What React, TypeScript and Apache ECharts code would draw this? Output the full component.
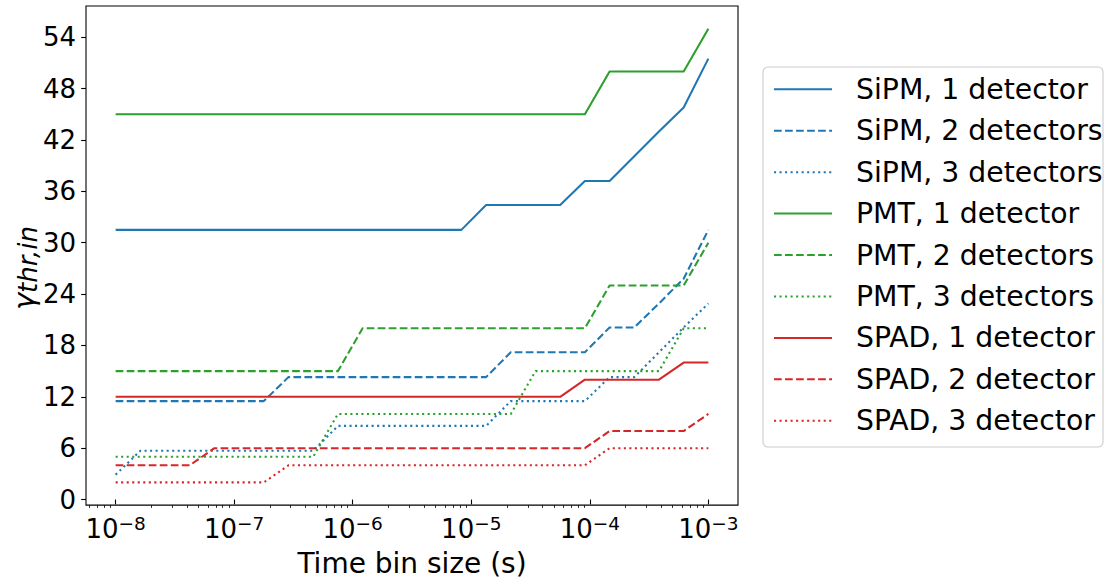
import React, { useEffect, useRef } from 'react';
import * as echarts from 'echarts';

// Time bin sizes (s), sampled log-uniformly from 1e-8 to 1e-3
const timeBins = [
  1e-8, 1.6156e-8, 2.6102e-8, 4.217e-8, 6.8129e-8,
  1.1007e-7, 1.7783e-7, 2.873e-7, 4.6416e-7, 7.4989e-7,
  1.2115e-6, 1.9573e-6, 3.1623e-6, 5.109e-6, 8.254e-6,
  1.3335e-5, 2.1544e-5, 3.4807e-5, 5.6234e-5, 9.0852e-5,
  1.4678e-4, 2.3714e-4, 3.8312e-4, 6.1897e-4, 1e-3,
];

const sipm1 = [31.5, 31.5, 31.5, 31.5, 31.5, 31.5, 31.5, 31.5, 31.5, 31.5, 31.5, 31.5, 31.5, 31.5, 31.5, 34.4, 34.4, 34.4, 34.4, 37.2, 37.2, 40.1, 43.0, 45.8, 51.5];
const sipm2 = [11.5, 11.5, 11.5, 11.5, 11.5, 11.5, 11.5, 14.3, 14.3, 14.3, 14.3, 14.3, 14.3, 14.3, 14.3, 14.3, 17.2, 17.2, 17.2, 17.2, 20.1, 20.1, 22.9, 25.8, 31.5];
const sipm3 = [2.9, 5.7, 5.7, 5.7, 5.7, 5.7, 5.7, 5.7, 5.7, 8.6, 8.6, 8.6, 8.6, 8.6, 8.6, 8.6, 11.5, 11.5, 11.5, 11.5, 14.3, 14.3, 17.2, 20.1, 22.9];
const pmt1 = [45, 45, 45, 45, 45, 45, 45, 45, 45, 45, 45, 45, 45, 45, 45, 45, 45, 45, 45, 45, 50, 50, 50, 50, 55];
const pmt2 = [15, 15, 15, 15, 15, 15, 15, 15, 15, 15, 20, 20, 20, 20, 20, 20, 20, 20, 20, 20, 25, 25, 25, 25, 30];
const pmt3 = [5, 5, 5, 5, 5, 5, 5, 5, 5, 10, 10, 10, 10, 10, 10, 10, 10, 15, 15, 15, 15, 15, 15, 20, 20];
const spad1 = [12, 12, 12, 12, 12, 12, 12, 12, 12, 12, 12, 12, 12, 12, 12, 12, 12, 12, 12, 14, 14, 14, 14, 16, 16];
const spad2 = [4, 4, 4, 4, 6, 6, 6, 6, 6, 6, 6, 6, 6, 6, 6, 6, 6, 6, 6, 6, 8, 8, 8, 8, 10];
const spad3 = [2, 2, 2, 2, 2, 2, 2, 4, 4, 4, 4, 4, 4, 4, 4, 4, 4, 4, 4, 4, 6, 6, 6, 6, 6];

const seriesNames = [
  'SiPM, 1 detector', 'SiPM, 2 detectors', 'SiPM, 3 detectors',
  'PMT, 1 detector', 'PMT, 2 detectors', 'PMT, 3 detectors',
  'SPAD, 1 detector', 'SPAD, 2 detector', 'SPAD, 3 detector',
];
const seriesValues = [sipm1, sipm2, sipm3, pmt1, pmt2, pmt3, spad1, spad2, spad3];

const xMajorTicks = [1e-8, 1e-7, 1e-6, 1e-5, 1e-4, 1e-3];
const xMinorTicks = [
  6e-9, 7e-9, 8e-9, 9e-9,
  2e-8, 3e-8, 4e-8, 5e-8, 6e-8, 7e-8, 8e-8, 9e-8,
  2e-7, 3e-7, 4e-7, 5e-7, 6e-7, 7e-7, 8e-7, 9e-7,
  2e-6, 3e-6, 4e-6, 5e-6, 6e-6, 7e-6, 8e-6, 9e-6,
  2e-5, 3e-5, 4e-5, 5e-5, 6e-5, 7e-5, 8e-5, 9e-5,
  2e-4, 3e-4, 4e-4, 5e-4, 6e-4, 7e-4, 8e-4, 9e-4,
];
const yTicks = [0, 6, 12, 18, 24, 30, 36, 42, 48, 54];

const BLUE = '#1f77b4';
const GREEN = '#2ca02c';
const RED = '#d62728';
const colors = [BLUE, BLUE, BLUE, GREEN, GREEN, GREEN, RED, RED, RED];
const SOLID: any = 'solid';
const DASH = [7.7, 3.33];
const DOT = [2.08, 3.44];
const styles = [SOLID, DASH, DOT, SOLID, DASH, DOT, SOLID, DASH, DOT];

const FONT = 'DejaVu Sans';
const LOG_MIN = -8.25;
const LOG_MAX = -2.75;

export default function App() {
  const ref = useRef<HTMLDivElement>(null);

  useEffect(() => {
    if (!ref.current) return;
    const chart = echarts.init(ref.current, null, { renderer: 'svg' });

    const series = seriesNames.map((name, i) => ({
      name,
      type: 'line',
      xAxisIndex: 0,
      yAxisIndex: 0,
      symbol: 'none',
      showSymbol: false,
      data: timeBins.map((t, j) => [Math.log10(t), seriesValues[i][j]]),
      lineStyle: {
        color: colors[i],
        width: 2.08,
        type: styles[i],
        cap: 'butt',
        join: 'round',
      },
      itemStyle: { color: colors[i] },
      emphasis: { disabled: true },
      silent: true,
    }));

    const option: any = {
      animation: false,
      backgroundColor: '#ffffff',
      textStyle: { fontFamily: FONT },
      grid: {
        left: 86,
        top: 6,
        width: 652,
        height: 503,
        show: true,
        borderColor: '#000000',
        borderWidth: 1.1,
        backgroundColor: 'transparent',
      },
      xAxis: [
        {
          type: 'value',
          min: LOG_MIN,
          max: LOG_MAX,
          position: 'bottom',
          axisLine: { show: false },
          splitLine: { show: false },
          axisTick: {
            show: true,
            length: 4.86,
            lineStyle: { color: '#000', width: 1.1 },
            customValues: xMajorTicks.map((v) => Math.log10(v)),
          },
          axisLabel: {
            show: true,
            margin: 9,
            customValues: xMajorTicks.map((v) => Math.log10(v)),
            formatter: (v: number) => {
              const e = Math.round(v);
              return `{b|10}{e|${e < 0 ? '\u2212' : ''}${Math.abs(e)}}`;
            },
            rich: {
              b: { fontSize: 26, lineHeight: 30, fontFamily: FONT, color: '#000' },
              e: { fontSize: 18.5, lineHeight: 16.6, verticalAlign: 'top', fontFamily: FONT, color: '#000' },
            },
          },
          name: 'Time bin size (s)',
          nameLocation: 'middle',
          nameGap: 40,
          nameTextStyle: { fontSize: 28, lineHeight: 32, color: '#000', fontFamily: FONT },
        },
        {
          type: 'value',
          min: LOG_MIN,
          max: LOG_MAX,
          position: 'bottom',
          gridIndex: 0,
          axisLine: { show: false },
          splitLine: { show: false },
          axisLabel: { show: false },
          axisTick: {
            show: true,
            length: 2.78,
            lineStyle: { color: '#000', width: 0.83 },
            customValues: xMinorTicks.map((v) => Math.log10(v)),
          },
        },
      ],
      yAxis: {
        type: 'value',
        min: -0.65,
        max: 57.65,
        axisLine: { show: false },
        splitLine: { show: false },
        axisTick: {
          show: true,
          length: 4.86,
          lineStyle: { color: '#000', width: 1.1 },
          customValues: yTicks,
        },
        axisLabel: {
          show: true,
          margin: 10,
          customValues: yTicks,
          fontSize: 26,
          color: '#000',
          fontFamily: FONT,
          formatter: (v: number) => String(v),
        },
      },
      legend: {
        orient: 'vertical',
        left: 773,
        top: 73.3,
        padding: 0,
        itemGap: 9.43,
        itemWidth: 58,
        itemHeight: 0.5,
        selectedMode: false,
        data: seriesNames,
        itemStyle: { color: 'transparent', borderColor: 'transparent', borderWidth: 0 },
        textStyle: {
          fontSize: 28.3,
          lineHeight: 32,
          color: '#000',
          fontFamily: FONT,
          padding: [0, 0, 0, 19],
        },
      },
      graphic: [
        {
          type: 'rect',
          z: 1,
          shape: { x: 763, y: 67, width: 340, height: 380, r: 5 },
          style: { fill: 'rgba(255,255,255,0.8)', stroke: '#cccccc', lineWidth: 1.1 },
        },
        {
          type: 'text',
          x: 24,
          y: 268,
          rotation: Math.PI / 2,
          z: 10,
          style: {
            text: '{g|\u03b3}{s|thr,in}',
            align: 'center',
            verticalAlign: 'middle',
            fontFamily: FONT,
            rich: {
              g: { fontSize: 29, lineHeight: 34, fontStyle: 'italic', fontFamily: FONT, fill: '#000', color: '#000' },
              s: { fontSize: 26, lineHeight: 24, verticalAlign: 'bottom', fontStyle: 'italic', fontFamily: FONT, fill: '#000', color: '#000' },
            },
          },
        },
      ],
      series,
    };

    chart.setOption(option);
    return () => {
      chart.dispose();
    };
  }, []);

  return (
    <div
      ref={ref}
      style={{ position: 'absolute', left: 0, top: 0, width: 1112, height: 584 }}
    />
  );
}
